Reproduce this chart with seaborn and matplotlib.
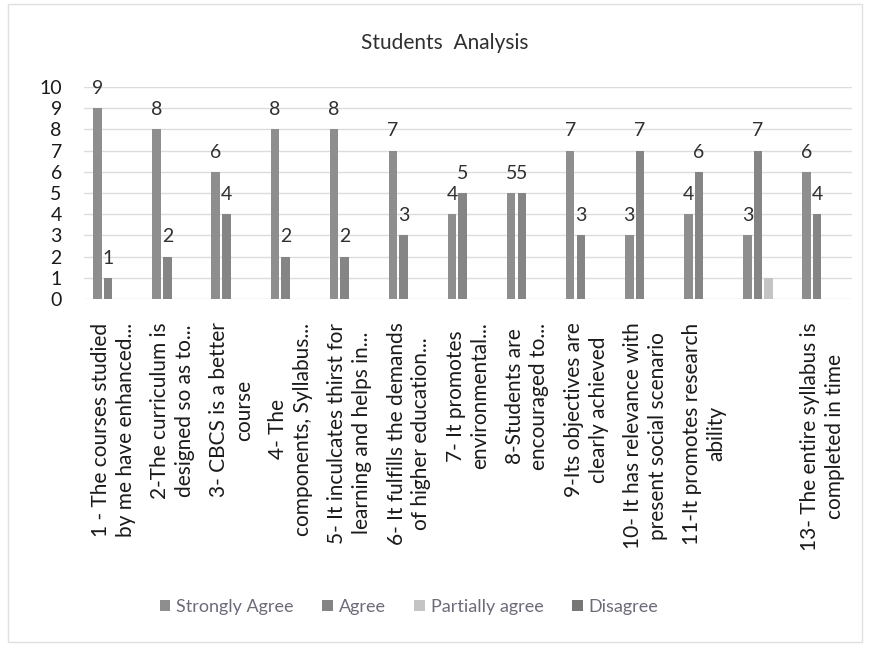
"""Students Analysis: clustered bar chart of survey responses per statement."""
import matplotlib
matplotlib.use("Agg")
import matplotlib.pyplot as plt
import pandas as pd
import seaborn as sns
from matplotlib.patches import Rectangle

STATEMENTS = [
    "1 - The courses studied\nby me have enhanced...",
    "2-The curriculum is\ndesigned so as to...",
    "3- CBCS is a better\ncourse",
    "4- The\ncomponents, Syllabus...",
    "5- It inculcates thirst for\nlearning and helps in...",
    "6- It fulfills the demands\nof higher education...",
    "7- It promotes\nenvironmental...",
    "8-Students are\nencouraged to...",
    "9-Its objectives are\nclearly achieved",
    "10- It has relevance with\npresent social scenario",
    "11-It promotes research\nability",
    "",
    "13- The entire syllabus is\ncompleted in time",
]
RESPONSES = ["Strongly Agree", "Agree", "Partially agree", "Disagree"]
STRONGLY_AGREE = [9, 8, 6, 8, 8, 7, 4, 5, 7, 3, 4, 3, 6]
AGREE = [1, 2, 4, 2, 2, 3, 5, 5, 3, 7, 6, 7, 4]
PARTIALLY_AGREE = [0, 0, 0, 0, 0, 0, 0, 0, 0, 0, 0, 1, 0]
DISAGREE = [0, 0, 0, 0, 0, 0, 0, 0, 0, 0, 0, 0, 0]

COLORS = ["#8e8e8e", "#858585", "#c4c4c4", "#777777"]
FONT = ["Lato", "DejaVu Sans"]


def build_frame() -> pd.DataFrame:
    items = [f"Q{i + 1}" for i in range(len(STATEMENTS))]
    rows = []
    for resp, vals in zip(RESPONSES, [STRONGLY_AGREE, AGREE, PARTIALLY_AGREE, DISAGREE]):
        for item, v in zip(items, vals):
            rows.append({"item": item, "response": resp, "count": v})
    return pd.DataFrame(rows)


def main() -> None:
    sns.set_style("white")
    plt.rcParams["font.family"] = FONT
    df = build_frame()

    fig = plt.figure(figsize=(8.7, 6.46), dpi=100)
    ax = fig.add_axes([84 / 870, 1 - 299 / 646, (852 - 84) / 870, (299 - 87) / 646])

    sns.barplot(data=df, x="item", y="count", hue="response", hue_order=RESPONSES,
                palette=COLORS, width=0.72, gap=0.2, linewidth=0, ax=ax)

    for container, vals in zip(ax.containers[:2], [STRONGLY_AGREE, AGREE]):
        ax.bar_label(container, labels=[str(v) if v else "" for v in vals],
                     padding=8, fontsize=14, color="#303030")

    ax.set_ylim(0, 10)
    ax.set_xlim(-0.5, len(STATEMENTS) - 0.5)
    ax.set_yticks(range(0, 11))
    ax.yaxis.grid(True, color="#dcdcdc", lw=1)
    ax.set_axisbelow(True)
    for s in ax.spines.values():
        s.set_visible(False)
    ax.set_xlabel("")
    ax.set_ylabel("")
    ax.set_xticks(range(len(STATEMENTS)))
    ax.set_xticklabels(STATEMENTS, rotation=90, multialignment="center",
                       linespacing=1.3)
    ax.tick_params(axis="x", length=0, pad=17, labelsize=15, labelcolor="#1a1a1a")
    ax.tick_params(axis="y", length=0, pad=16, labelsize=14, labelcolor="#1a1a1a")

    handles, labels = ax.get_legend_handles_labels()
    ax.legend_.remove()
    fig.legend(handles, labels, loc="center", bbox_to_anchor=(0.47, 1 - 607 / 646),
               ncol=4, frameon=False, fontsize=13, handlelength=0.6,
               handleheight=0.6, handletextpad=0.3, columnspacing=1.6,
               labelcolor="#6b6b7a")

    fig.text(0.511, 1 - 43 / 646, "Students  Analysis", ha="center", va="center",
             fontsize=15, color="#303030")

    fig.patches.append(Rectangle((8 / 870, 4 / 646), 854 / 870, 638 / 646,
                                 transform=fig.transFigure, fill=False,
                                 edgecolor="#e0e0e0", lw=1))

    fig.savefig("out.png", dpi=100)
    plt.close(fig)


if __name__ == "__main__":
    main()
